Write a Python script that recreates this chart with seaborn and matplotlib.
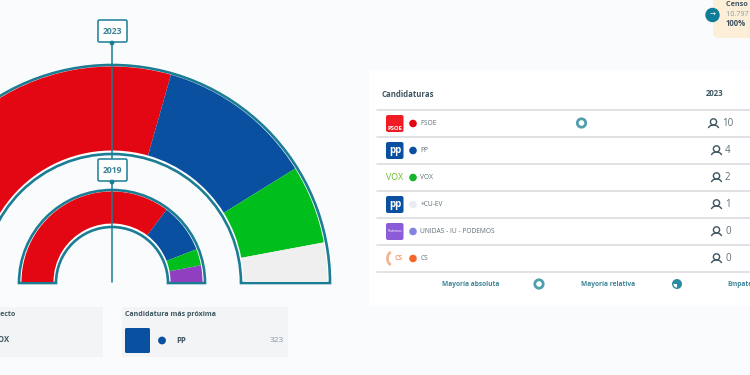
import numpy as np
import pandas as pd
import matplotlib.pyplot as plt
import seaborn as sns
from matplotlib.patches import Wedge, Rectangle, FancyBboxPatch, Circle, Arc

# seats per party, left to right on the arcs
SEATS_2023 = [10, 4, 2, 1]
COLORS_2023 = ["#e30613", "#0a50a1", "#00bf1d", "#efefef"]
SEATS_2019 = [12, 3, 1, 1]
COLORS_2019 = ["#e30613", "#0a50a1", "#00bf1d", "#8f3fbf"]

# table
NAMES = ["PSOE", "PP", "VOX", "+CU-EV", "UNIDAS - IU - PODEMOS", "CS"]
ROW_SEATS = [10, 4, 2, 1, 0, 0]
DOT_COLORS = ["#e30613", "#0a50a1", "#14b52a", "#e9ecf2", "#8583e0", "#f4692a"]

BG = "#f9fbfd"
TEAL = "#1b7d94"
GREY_TXT = "#5f6f78"
DARK_TXT = "#3d5560"
FONT = "Open Sans"

CX, CY = 112, 283
ROW_TOP = 110
ROW_H = 27


def draw_arc(ax, seats, colors, r_out, r_in):
    # teal outline first, the coloured seats sit a little inside of it
    ax.add_patch(Wedge((CX, CY), r_out, 180, 360, width=r_out - r_in,
                       facecolor="white", edgecolor=TEAL, lw=1.9, zorder=2))
    edges = np.cumsum([0] + seats) / sum(seats) * 180 + 180
    for i, color in enumerate(colors):
        ax.add_patch(Wedge((CX, CY - 1), r_out - 2.5, edges[i], edges[i + 1],
                           width=r_out - r_in - 5, facecolor=color,
                           edgecolor="none", zorder=3))


def year_box(ax, label, y):
    ax.add_patch(FancyBboxPatch((98, y), 29, 22, boxstyle="round,pad=0,rounding_size=1.5",
                                facecolor="white", edgecolor=TEAL, lw=1.1, zorder=6))
    ax.text(112.5, y + 11.5, label, ha="center", va="center", fontsize=6.2,
            fontweight="bold", color="#3f8497", family=FONT, zorder=7)
    ax.add_patch(Circle((112, y + 23), 1.7, color=TEAL, zorder=6))


def person(ax, x, y):
    ax.add_patch(Circle((x, y - 1.6), 3.1, facecolor="none", edgecolor=DARK_TXT, lw=1, zorder=4))
    ax.add_patch(Arc((x, y + 5.5), 10.5, 8, theta1=190, theta2=350, edgecolor=DARK_TXT, lw=1, zorder=4))


def draw_logo(ax, i, y):
    x0 = 386
    if i in (0, 1, 3, 4):
        col = {0: "#f01c24", 1: "#0a50a1", 3: "#0a50a1", 4: "#8b5bd8"}[i]
        ax.add_patch(FancyBboxPatch((x0, y - 8.5), 17.5, 17, boxstyle="round,pad=0,rounding_size=2",
                                    facecolor=col, edgecolor="none", zorder=3))
    if i == 0:
        ax.text(x0 + 8.7, y + 5, "PSOE", ha="center", va="center", fontsize=4.2, color="white",
                fontweight="bold", family=FONT, zorder=4)
    elif i in (1, 3):
        ax.text(x0 + 9.5, y + 0.5, "pp", ha="center", va="center", fontsize=7, color="white",
                fontweight="bold", family=FONT, zorder=4)
    elif i == 2:
        ax.text(x0 + 8.5, y, "VOX", ha="center", va="center", fontsize=6.4, color="#6dbb2c",
                family=FONT, zorder=4)
    elif i == 4:
        ax.text(x0 + 8.7, y, "Podemos", ha="center", va="center", fontsize=2.4, color="white",
                family=FONT, zorder=4)
    else:
        ax.text(x0 + 12.5, y, "CS", ha="center", va="center", fontsize=5, color="#f0a27c",
                fontweight="bold", family=FONT, zorder=4)
        ax.add_patch(Arc((x0 + 6, y), 9, 13, theta1=100, theta2=260, edgecolor="#f3b596", lw=2, zorder=4))


def draw_table(ax):
    ax.add_patch(Rectangle((369, 70), 381, 236, facecolor="white", edgecolor="none", zorder=1))
    ax.text(381.5, 94.5, "Candidaturas", ha="left", va="center", fontsize=5.6, fontweight="bold",
            color=DARK_TXT, family=FONT, zorder=4)
    ax.text(715, 93.5, "2023", ha="center", va="center", fontsize=5.6, fontweight="bold",
            color=DARK_TXT, family=FONT, zorder=4)
    for i in range(len(NAMES) + 1):
        ax.plot([377, 750], [ROW_TOP + i * ROW_H] * 2, color="#d8dadb", lw=1.1, zorder=2)

    rows = pd.DataFrame({"name": NAMES,
                         "x": [413] * len(NAMES),
                         "y": [ROW_TOP + 13.5 + i * ROW_H for i in range(len(NAMES))]})
    sns.scatterplot(data=rows, x="x", y="y", hue="name", palette=DOT_COLORS, s=30,
                    linewidth=0, legend=False, ax=ax, zorder=4)
    for i, name in enumerate(NAMES):
        y = rows["y"][i]
        draw_logo(ax, i, y)
        ax.text(420.5, y, name, ha="left", va="center", fontsize=4.8, color=GREY_TXT, family=FONT, zorder=4)
        val = str(ROW_SEATS[i])
        # the icon and the number are centred as a pair
        x_p = 713.5 if len(val) == 2 else 716.5
        person(ax, x_p, y)
        ax.text(x_p + 8.5, y, val, ha="left", va="center", fontsize=7, color=GREY_TXT, family=FONT, zorder=4)

    # majority markers
    for x, y in [(581.5, 123), (539, 284)]:
        ax.add_patch(Circle((x, y), 4.2, facecolor="white", edgecolor="#4f9fae", lw=2, zorder=4))
    ax.add_patch(Circle((677, 284), 5, facecolor="#2a8ca2", edgecolor="none", zorder=4))
    ax.add_patch(Wedge((677, 284), 3.6, 90, 180, facecolor="white", edgecolor="none", zorder=5))
    for x, label in [(442, "Mayoría absoluta"), (581, "Mayoría relativa"), (727, "Empate")]:
        ax.text(x, 284, label, ha="left", va="center", fontsize=4.8, fontweight="bold",
                color="#3f8497", family=FONT, zorder=4)


def draw_cards(ax):
    ax.add_patch(Rectangle((-5, 307), 108, 50, facecolor="#f2f4f6", edgecolor="none", zorder=1))
    ax.add_patch(Rectangle((122, 307), 166, 50, facecolor="#f2f4f6", edgecolor="none", zorder=1))
    ax.text(15, 315, "Último electo", ha="right", va="center", fontsize=5, fontweight="bold",
            color=DARK_TXT, family=FONT, zorder=3)
    ax.text(9, 340, "VOX", ha="right", va="center", fontsize=5.6, fontweight="bold",
            color=DARK_TXT, family=FONT, zorder=3)
    ax.text(125, 315, "Candidatura más próxima", ha="left", va="center", fontsize=5, fontweight="bold",
            color=DARK_TXT, family=FONT, zorder=3)
    ax.add_patch(FancyBboxPatch((125, 328), 25, 25, boxstyle="round,pad=0,rounding_size=1.5",
                                facecolor="#0a50a1", edgecolor="none", zorder=3))
    ax.add_patch(Circle((162, 340.5), 3.2, color="#0a50a1", zorder=3))
    ax.text(176, 340.5, "PP", ha="left", va="center", fontsize=5.6, fontweight="bold",
            color=DARK_TXT, family=FONT, zorder=3)
    ax.text(284, 340.5, "323", ha="right", va="center", fontsize=6, color="#8a9aa3", family=FONT, zorder=3)


def draw_tooltip(ax):
    ax.add_patch(FancyBboxPatch((713, -10), 60, 48, boxstyle="round,pad=0,rounding_size=6",
                                facecolor="#fdeed8", edgecolor="none", zorder=3))
    ax.add_patch(Circle((712.5, 15), 6.5, color="#0f7c98", zorder=4))
    ax.text(712.5, 14.6, "→", ha="center", va="center", fontsize=5, color="white", family="DejaVu Sans", zorder=5)
    ax.text(726, 5, "Censo Electoral", ha="left", va="center", fontsize=5.2, fontweight="bold",
            color=DARK_TXT, family=FONT, zorder=4, clip_on=True)
    ax.text(726, 14.5, "10.797 de 10.797", ha="left", va="center", fontsize=5.2, color="#8a9aa3",
            family=FONT, zorder=4, clip_on=True)
    ax.text(726, 24, "100%", ha="left", va="center", fontsize=5.6, fontweight="bold",
            color=DARK_TXT, family=FONT, zorder=4)


sns.set_theme(style="white")
fig = plt.figure(figsize=(7.5, 3.75), dpi=100, facecolor=BG)
ax = fig.add_axes([0, 0, 1, 1])
ax.set_xlim(0, 750)
ax.set_ylim(375, 0)
ax.set_facecolor(BG)
ax.axis("off")

draw_arc(ax, SEATS_2023, COLORS_2023, 218, 129)
draw_arc(ax, SEATS_2019, COLORS_2019, 93, 56)
ax.plot([112, 112], [42, 282], color=TEAL, lw=1.1, zorder=5)
year_box(ax, "2023", 20)
year_box(ax, "2019", 159)

draw_table(ax)
draw_cards(ax)
draw_tooltip(ax)

fig.savefig("out.png", dpi=100, facecolor=BG)
